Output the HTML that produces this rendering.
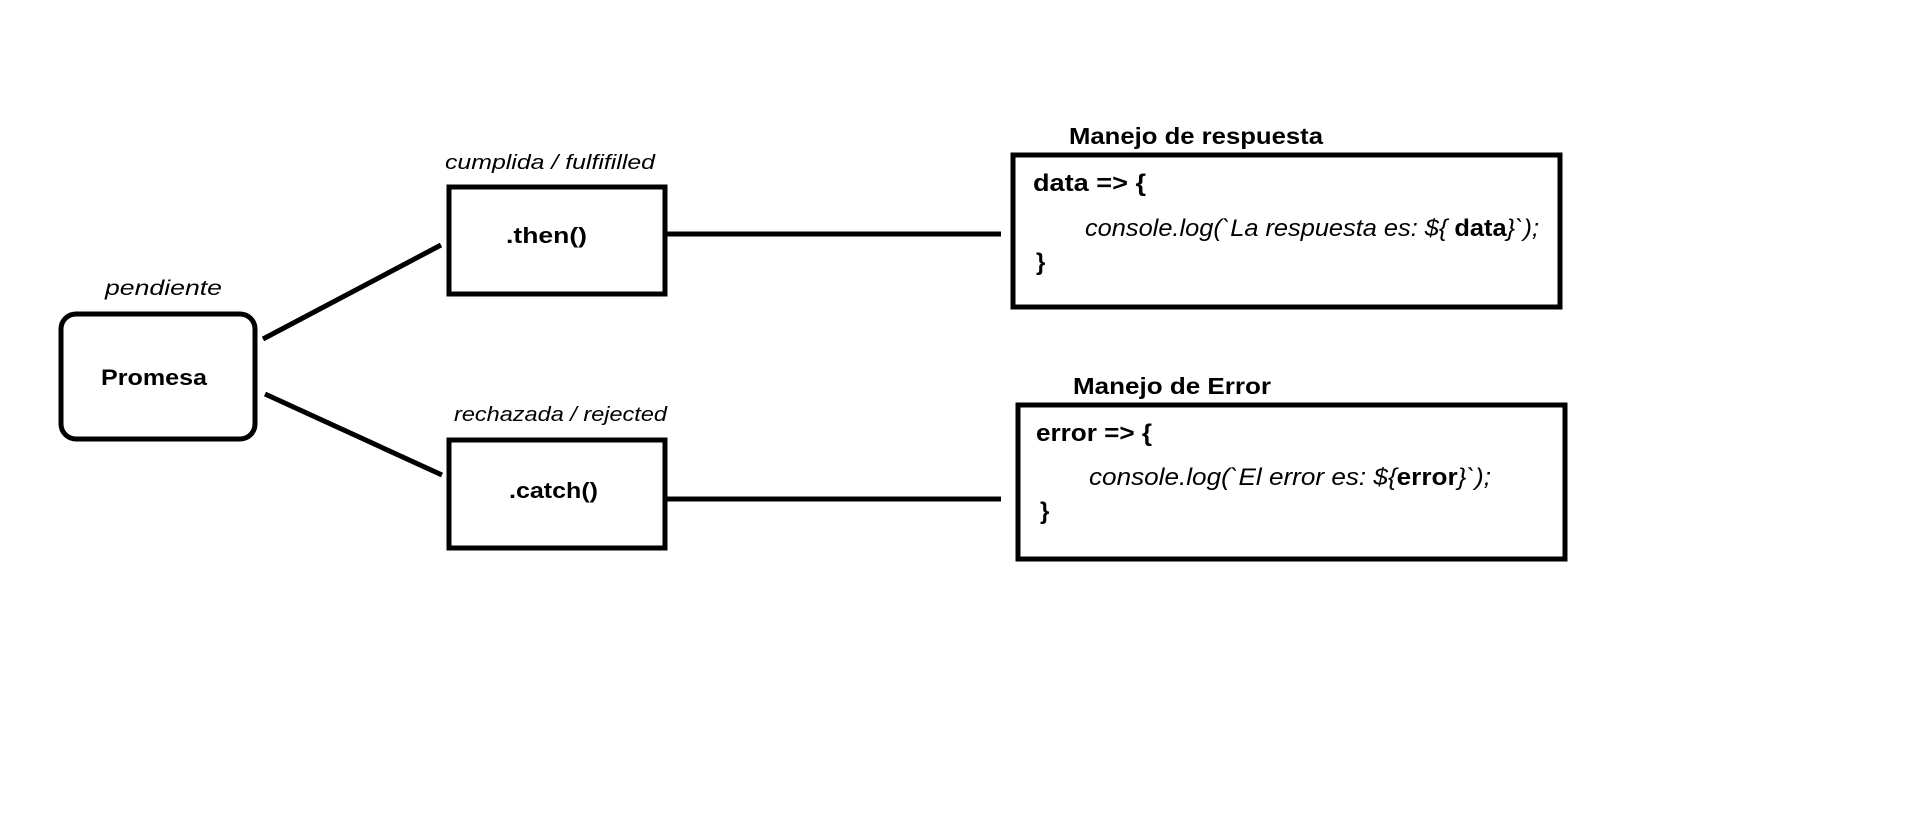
<!DOCTYPE html>
<html><head><meta charset="utf-8"><style>
html,body{margin:0;padding:0;background:#fff;}
svg{display:block;}
text{font-family:"Liberation Sans",sans-serif;fill:#000;}
.b{font-weight:bold;}
.i{font-style:italic;}
</style></head><body>
<svg width="1914" height="835" viewBox="0 0 1914 835" xmlns="http://www.w3.org/2000/svg">
<g transform="translate(-1,-2)">
<g fill="none" stroke="#000" stroke-width="5">
<rect x="62" y="316" width="194" height="125" rx="15"/>
<rect x="450" y="189" width="216" height="107"/>
<rect x="450" y="442" width="216" height="108"/>
<rect x="1014" y="157" width="547" height="152"/>
<rect x="1019" y="407" width="547" height="154"/>
<line x1="264" y1="341" x2="442" y2="247"/>
<line x1="266" y1="396" x2="443" y2="477"/>
<line x1="666" y1="236" x2="1002" y2="236"/>
<line x1="666" y1="501" x2="1002" y2="501"/>
</g>
<text x="106" y="297" class="i" font-size="21" textLength="117" lengthAdjust="spacingAndGlyphs">pendiente</text>
<text x="102" y="387" class="b" font-size="22" textLength="106" lengthAdjust="spacingAndGlyphs">Promesa</text>
<text x="446" y="171" class="i" font-size="20" textLength="210" lengthAdjust="spacingAndGlyphs">cumplida / fulfifilled</text>
<text x="455" y="423" class="i" font-size="20" textLength="213" lengthAdjust="spacingAndGlyphs">rechazada / rejected</text>
<text x="507" y="245" class="b" font-size="22" textLength="81" lengthAdjust="spacingAndGlyphs">.then()</text>
<text x="510" y="500" class="b" font-size="22" textLength="89" lengthAdjust="spacingAndGlyphs">.catch()</text>
<text x="1070" y="146" class="b" font-size="23" textLength="254" lengthAdjust="spacingAndGlyphs">Manejo de respuesta</text>
<text x="1074" y="396" class="b" font-size="23" textLength="198" lengthAdjust="spacingAndGlyphs">Manejo de Error</text>
<text x="1034" y="193" class="b" font-size="24" textLength="113" lengthAdjust="spacingAndGlyphs">data =&gt; {</text>
<text x="1086" y="238" font-size="24" textLength="454" lengthAdjust="spacingAndGlyphs"><tspan class="i">console.log(`La respuesta es: ${ </tspan><tspan class="b">data</tspan><tspan class="i">}`);</tspan></text>
<text x="1037" y="272" class="b" font-size="24">}</text>
<text x="1037" y="443" class="b" font-size="24" textLength="116" lengthAdjust="spacingAndGlyphs">error =&gt; {</text>
<text x="1090" y="487" font-size="24" textLength="402" lengthAdjust="spacingAndGlyphs"><tspan class="i">console.log(`El error es: ${</tspan><tspan class="b">error</tspan><tspan class="i">}`);</tspan></text>
<text x="1041" y="521" class="b" font-size="24">}</text>
</g>
</svg>
</body></html>
